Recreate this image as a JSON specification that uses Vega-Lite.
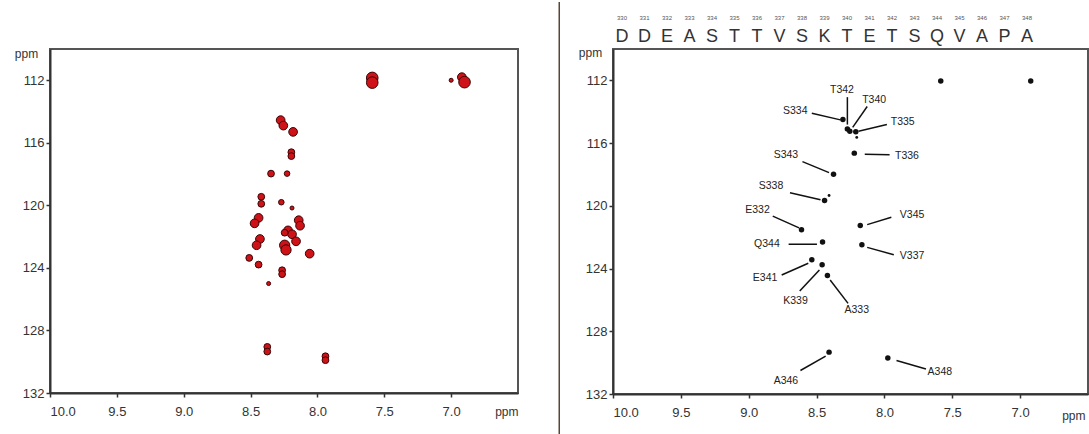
{
  "$schema": "https://vega.github.io/schema/vega-lite/v6.json",
  "background": "white",
  "padding": {"left": 13, "top": 0, "right": 0, "bottom": 0},
  "bounds": "flush",
  "spacing": 95,
  "config": {
    "view": {"stroke": "#555", "strokeWidth": 2},
    "font": "Liberation Sans",
    "axis": {
      "grid": false,
      "labelFont": "Liberation Sans",
      "labelFontSize": 13,
      "labelColor": "#333",
      "tickColor": "#333",
      "tickSize": 4,
      "tickWidth": 1.5,
      "domainColor": "#333",
      "domainWidth": 2,
      "titleFont": "Liberation Sans",
      "titleFontSize": 12,
      "titleFontWeight": "normal",
      "titleColor": "#333"
    }
  },
  "datasets": {
    "peaks": [
      {"x": 7.59, "y": 111.85, "intensity": 5},
      {"x": 7.59, "y": 112.15, "intensity": 5},
      {"x": 6.92, "y": 111.8, "intensity": 3},
      {"x": 6.90, "y": 112.12, "intensity": 5},
      {"x": 7.00, "y": 112.0, "intensity": 1},
      {"x": 8.275, "y": 114.55, "intensity": 3},
      {"x": 8.255, "y": 114.9, "intensity": 3},
      {"x": 8.182, "y": 115.3, "intensity": 3},
      {"x": 8.195, "y": 116.6, "intensity": 2},
      {"x": 8.195, "y": 116.85, "intensity": 2},
      {"x": 8.347, "y": 117.97, "intensity": 2},
      {"x": 8.227, "y": 117.97, "intensity": 1.5},
      {"x": 8.42, "y": 119.45, "intensity": 2},
      {"x": 8.42, "y": 119.9, "intensity": 2},
      {"x": 8.27, "y": 119.8, "intensity": 1.5},
      {"x": 8.19, "y": 120.17, "intensity": 1},
      {"x": 8.44, "y": 120.8, "intensity": 3},
      {"x": 8.47, "y": 121.15, "intensity": 3},
      {"x": 8.14, "y": 120.95, "intensity": 3},
      {"x": 8.13, "y": 121.3, "intensity": 3},
      {"x": 8.22, "y": 121.6, "intensity": 3},
      {"x": 8.19, "y": 121.85, "intensity": 3},
      {"x": 8.245, "y": 121.75, "intensity": 2},
      {"x": 8.245, "y": 122.55, "intensity": 4},
      {"x": 8.235, "y": 122.85, "intensity": 4},
      {"x": 8.16, "y": 122.3, "intensity": 3},
      {"x": 8.43, "y": 122.15, "intensity": 3},
      {"x": 8.455, "y": 122.55, "intensity": 3},
      {"x": 8.058, "y": 123.09, "intensity": 3},
      {"x": 8.51, "y": 123.36, "intensity": 2},
      {"x": 8.44, "y": 123.79, "intensity": 2},
      {"x": 8.264, "y": 124.15, "intensity": 2},
      {"x": 8.264, "y": 124.4, "intensity": 2},
      {"x": 8.365, "y": 125.0, "intensity": 1},
      {"x": 8.375, "y": 129.05, "intensity": 2},
      {"x": 8.375, "y": 129.35, "intensity": 2},
      {"x": 7.94, "y": 129.65, "intensity": 2},
      {"x": 7.94, "y": 129.9, "intensity": 2}
    ],
    "assign": [
      {"name": "T342", "x": 8.273, "y": 115.1, "lx": 8.313, "ly": 112.6, "x1": 8.273, "y1": 113.07, "x2": 8.273, "y2": 114.82},
      {"name": "T340", "x": 8.255, "y": 115.25, "lx": 8.076, "ly": 113.28, "x1": 8.127, "y1": 113.67, "x2": 8.234, "y2": 115.0},
      {"name": "S334", "x": 8.306, "y": 114.5, "lx": 8.657, "ly": 113.97, "x1": 8.535, "y1": 114.1, "x2": 8.324, "y2": 114.52},
      {"name": "T335", "x": 8.211, "y": 115.27, "lx": 7.865, "ly": 114.67, "x1": 7.982, "y1": 114.82, "x2": 8.191, "y2": 115.25},
      {"name": "T336", "x": 8.222, "y": 116.64, "lx": 7.834, "ly": 116.81, "x1": 8.145, "y1": 116.71, "x2": 7.962, "y2": 116.75},
      {"name": "S343", "x": 8.375, "y": 117.99, "lx": 8.726, "ly": 116.75, "x1": 8.604, "y1": 117.18, "x2": 8.408, "y2": 117.88},
      {"name": "S338", "x": 8.441, "y": 119.66, "lx": 8.836, "ly": 118.74, "x1": 8.696, "y1": 119.17, "x2": 8.471, "y2": 119.61},
      {"name": "E332", "x": 8.611, "y": 121.52, "lx": 8.935, "ly": 120.24, "x1": 8.823, "y1": 120.66, "x2": 8.629, "y2": 121.41},
      {"name": "V345", "x": 8.178, "y": 121.26, "lx": 7.796, "ly": 120.56, "x1": 7.949, "y1": 120.73, "x2": 8.127, "y2": 121.2},
      {"name": "Q344", "x": 8.456, "y": 122.31, "lx": 8.866, "ly": 122.42, "x1": 8.706, "y1": 122.45, "x2": 8.497, "y2": 122.45},
      {"name": "V337", "x": 8.166, "y": 122.48, "lx": 7.796, "ly": 123.23, "x1": 8.127, "y1": 122.65, "x2": 7.931, "y2": 123.12},
      {"name": "E341", "x": 8.535, "y": 123.44, "lx": 8.879, "ly": 124.62, "x1": 8.757, "y1": 124.41, "x2": 8.561, "y2": 123.66},
      {"name": "K339", "x": 8.459, "y": 123.76, "lx": 8.655, "ly": 126.07, "x1": 8.624, "y1": 125.43, "x2": 8.479, "y2": 124.09},
      {"name": "A333", "x": 8.42, "y": 124.45, "lx": 8.204, "ly": 126.65, "x1": 8.4, "y1": 124.73, "x2": 8.268, "y2": 126.22},
      {"name": "A346", "x": 8.408, "y": 129.33, "lx": 8.726, "ly": 131.14, "x1": 8.619, "y1": 130.5, "x2": 8.433, "y2": 129.58},
      {"name": "A348", "x": 7.975, "y": 129.71, "lx": 7.592, "ly": 130.61, "x1": 7.911, "y1": 129.86, "x2": 7.694, "y2": 130.4}
    ],
    "extra": [
      {"x": 7.585, "y": 112.04, "big": "yes"},
      {"x": 6.922, "y": 112.04, "big": "yes"},
      {"x": 8.204, "y": 115.64, "big": "no"},
      {"x": 8.408, "y": 119.34, "big": "no"}
    ],
    "seq": [
      {"res": 330, "aa": "D"}, {"res": 331, "aa": "D"}, {"res": 332, "aa": "E"},
      {"res": 333, "aa": "A"}, {"res": 334, "aa": "S"}, {"res": 335, "aa": "T"},
      {"res": 336, "aa": "T"}, {"res": 337, "aa": "V"}, {"res": 338, "aa": "S"},
      {"res": 339, "aa": "K"}, {"res": 340, "aa": "T"}, {"res": 341, "aa": "E"},
      {"res": 342, "aa": "T"}, {"res": 343, "aa": "S"}, {"res": 344, "aa": "Q"},
      {"res": 345, "aa": "V"}, {"res": 346, "aa": "A"}, {"res": 347, "aa": "P"},
      {"res": 348, "aa": "A"}
    ]
  },
  "hconcat": [
    {
      "width": 468,
      "height": 344,
      "data": {"name": "peaks"},
      "mark": {"type": "point", "shape": "circle", "filled": true, "fill": "#cf1218", "stroke": "#3a0505", "strokeWidth": 1, "opacity": 1},
      "encoding": {
        "x": {
          "field": "x", "type": "quantitative",
          "scale": {"domain": [10, 6.5], "nice": false, "zero": false},
          "axis": {"values": [10, 9.5, 9, 8.5, 8, 7.5, 7], "format": ".1f", "labelPadding": 8,
                   "title": "ppm", "titleX": 468, "titleY": 18, "titleAlign": "right", "titleBaseline": "middle"}
        },
        "y": {
          "field": "y", "type": "quantitative",
          "scale": {"domain": [132, 110], "nice": false, "zero": false},
          "axis": {"values": [112, 116, 120, 124, 128, 132], "labelPadding": 2,
                   "title": "ppm", "titleAngle": 0, "titleX": -24, "titleY": 4, "titleAlign": "center", "titleBaseline": "middle"}
        },
        "size": {"field": "intensity", "type": "quantitative", "scale": {"domain": [1, 5], "range": [16, 135]}, "legend": null}
      }
    },
    {
      "width": 475,
      "height": 345,
      "resolve": {"scale": {"x": "independent"}},
      "layer": [
        {
          "layer": [
            {
              "data": {"values": [{}]},
              "mark": {"type": "rule", "stroke": "#5a4434", "strokeWidth": 1.5},
              "encoding": {
                "x": {"datum": 10.396, "type": "quantitative"},
                "y": {"datum": 107.0, "type": "quantitative"},
                "y2": {"datum": 134.55}
              }
            },
            {
              "data": {"name": "assign"},
              "mark": {"type": "rule", "stroke": "#111", "strokeWidth": 1.5},
              "encoding": {
                "x": {"field": "x1", "type": "quantitative"},
                "y": {"field": "y1", "type": "quantitative"},
                "x2": {"field": "x2"},
                "y2": {"field": "y2"}
              }
            },
            {
              "data": {"name": "assign"},
              "mark": {"type": "point", "shape": "circle", "filled": true, "color": "#111", "size": 30, "opacity": 1},
              "encoding": {
                "x": {"field": "x", "type": "quantitative"},
                "y": {"field": "y", "type": "quantitative"}
              }
            },
            {
              "data": {"name": "extra"},
              "mark": {"type": "point", "shape": "circle", "filled": true, "color": "#111", "opacity": 1},
              "encoding": {
                "x": {"field": "x", "type": "quantitative"},
                "y": {"field": "y", "type": "quantitative"},
                "size": {"field": "big", "type": "nominal", "scale": {"domain": ["yes", "no"], "range": [30, 8]}, "legend": null}
              }
            },
            {
              "data": {"name": "assign"},
              "mark": {"type": "text", "font": "Liberation Sans", "fontSize": 10.5, "color": "#222", "align": "center", "baseline": "middle"},
              "encoding": {
                "x": {"field": "lx", "type": "quantitative",
                      "scale": {"domain": [10, 6.5], "nice": false, "zero": false},
                      "axis": {"values": [10, 9.5, 9, 8.5, 8, 7.5, 7], "format": ".1f", "labelPadding": 8,
                               "title": "ppm", "titleX": 472, "titleY": 21, "titleAlign": "right", "titleBaseline": "middle"}},
                "y": {"field": "ly", "type": "quantitative",
                      "scale": {"domain": [132, 110], "nice": false, "zero": false},
                      "axis": {"values": [112, 116, 120, 124, 128, 132], "labelPadding": 2,
                               "title": "ppm", "titleAngle": 0, "titleX": -23, "titleY": 3, "titleAlign": "center", "titleBaseline": "middle"}},
                "text": {"field": "name"}
              }
            }
          ]
        },
        {
          "data": {"name": "seq"},
          "layer": [
            {
              "mark": {"type": "text", "font": "Liberation Sans", "fontSize": 6, "color": "#555", "align": "center", "baseline": "middle"},
              "encoding": {
                "x": {"field": "res", "type": "quantitative", "scale": {"domain": [329.6, 350.71], "nice": false, "zero": false}, "axis": null},
                "y": {"datum": 108.0, "type": "quantitative"},
                "text": {"field": "res"}
              }
            },
            {
              "mark": {"type": "text", "font": "Liberation Sans", "fontSize": 18, "color": "#333", "align": "center", "baseline": "middle"},
              "encoding": {
                "x": {"field": "res", "type": "quantitative", "axis": null},
                "y": {"datum": 109.23, "type": "quantitative"},
                "text": {"field": "aa"}
              }
            }
          ]
        }
      ]
    }
  ]
}
